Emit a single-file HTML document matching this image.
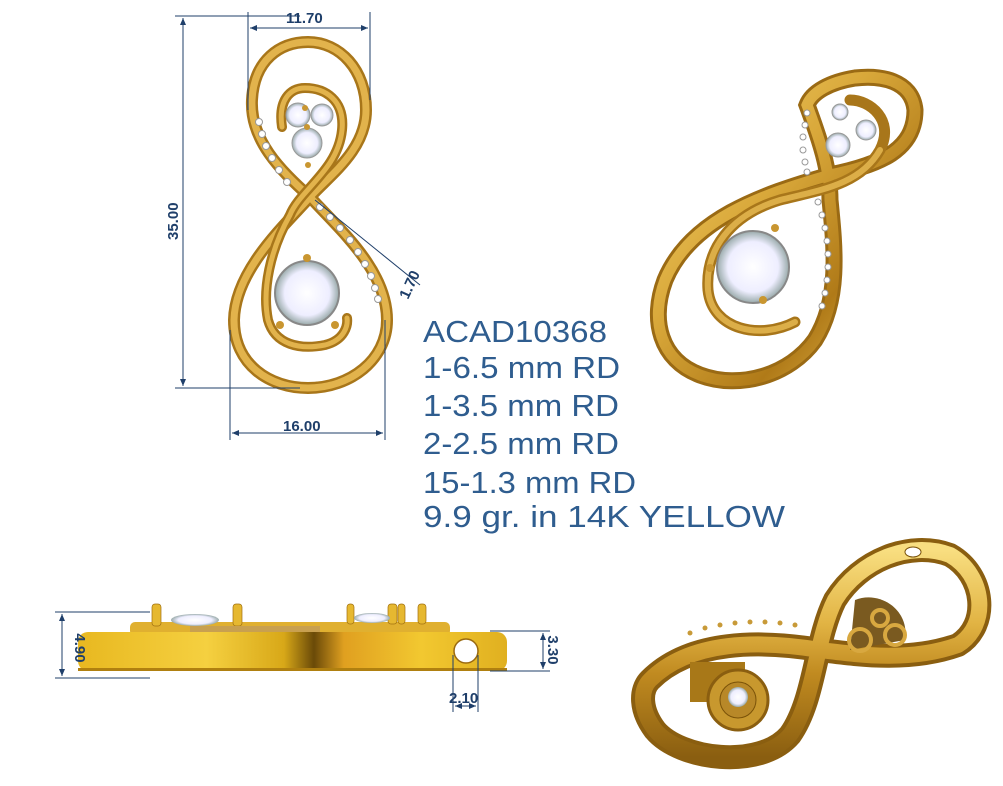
<!DOCTYPE html>
<html><head><meta charset="utf-8"><style>
html,body{margin:0;padding:0;background:#fff;}
svg{display:block}
text{font-family:"Liberation Sans",sans-serif;}
</style></head><body>
<svg width="1003" height="786" viewBox="0 0 1003 786" xmlns="http://www.w3.org/2000/svg">
<defs>
<linearGradient id="g" x1="0" y1="0" x2="1" y2="1">
<stop offset="0" stop-color="#f6d56e"/><stop offset="0.4" stop-color="#d9a83a"/><stop offset="0.7" stop-color="#b07a18"/><stop offset="1" stop-color="#f0c85a"/>
</linearGradient>
<linearGradient id="gv" x1="0" y1="0" x2="0" y2="1">
<stop offset="0" stop-color="#f8de80"/><stop offset="0.35" stop-color="#e2b444"/><stop offset="0.6" stop-color="#c08a20"/><stop offset="1" stop-color="#8a5e10"/>
</linearGradient>
<linearGradient id="sb" x1="0" y1="0" x2="1" y2="0">
<stop offset="0" stop-color="#e8b820"/><stop offset="0.3" stop-color="#f5d040"/><stop offset="0.48" stop-color="#d8a818"/><stop offset="0.55" stop-color="#6a4a08"/><stop offset="0.62" stop-color="#e0a020"/><stop offset="0.8" stop-color="#f2c830"/><stop offset="1" stop-color="#e0b020"/>
</linearGradient>
<radialGradient id="d"><stop offset="0" stop-color="#fff"/><stop offset="0.7" stop-color="#eef"/><stop offset="1" stop-color="#9aa"/></radialGradient>
<marker id="a" markerWidth="8" markerHeight="8" refX="7" refY="4" orient="auto-start-reverse"><path d="M0,1 L7,4 L0,7z" fill="#1f3f6a"/></marker>
</defs>

<!-- Front view -->
<g fill="none" stroke-linecap="round">
<path d="M310,197 C280,170 250,140 252,100 C254,60 280,42 308,42 C340,42 366,70 366,110 C366,150 330,175 310,197 C285,225 235,270 234,320 C234,365 270,388 308,388 C350,388 387,360 387,320 C387,270 340,230 310,197 Z" stroke="#a8761a" stroke-width="12"/>
<path d="M310,197 C280,170 250,140 252,100 C254,60 280,42 308,42 C340,42 366,70 366,110 C366,150 330,175 310,197 C285,225 235,270 234,320 C234,365 270,388 308,388 C350,388 387,360 387,320 C387,270 340,230 310,197 Z" stroke="#e2b34c" stroke-width="7"/>
<path d="M282,127 C278,100 290,88 305,88 C325,88 345,100 342,130 C338,170 300,190 290,215 C270,250 262,290 268,320 C275,345 300,350 325,345 C345,340 348,325 347,318" stroke="#a8761a" stroke-width="10"/>
<path d="M282,127 C278,100 290,88 305,88 C325,88 345,100 342,130 C338,170 300,190 290,215 C270,250 262,290 268,320 C275,345 300,350 325,345 C345,340 348,325 347,318" stroke="#e2b34c" stroke-width="5"/>
</g>
<circle cx="298" cy="115" r="12" fill="url(#d)" stroke="#999"/>
<circle cx="322" cy="115" r="11" fill="url(#d)" stroke="#999"/>
<circle cx="307" cy="143" r="15" fill="url(#d)" stroke="#999"/>
<circle cx="307" cy="293" r="32" fill="url(#d)" stroke="#888" stroke-width="2"/>
<g fill="#c99630"><circle cx="305" cy="108" r="3"/><circle cx="307" cy="127" r="3"/><circle cx="308" cy="165" r="3"/><circle cx="307" cy="258" r="4"/><circle cx="280" cy="325" r="4"/><circle cx="335" cy="325" r="4"/></g>
<g fill="#fff" stroke="#999">
<circle cx="259" cy="122" r="3.5"/><circle cx="262" cy="134" r="3.5"/><circle cx="266" cy="146" r="3.5"/><circle cx="272" cy="158" r="3.5"/><circle cx="279" cy="170" r="3.5"/><circle cx="287" cy="182" r="3.5"/>
<circle cx="320" cy="207" r="3.5"/><circle cx="330" cy="217" r="3.5"/><circle cx="340" cy="228" r="3.5"/><circle cx="350" cy="240" r="3.5"/><circle cx="358" cy="252" r="3.5"/><circle cx="365" cy="264" r="3.5"/><circle cx="371" cy="276" r="3.5"/><circle cx="375" cy="288" r="3.5"/><circle cx="378" cy="299" r="3.5"/>
</g>
<!-- dims front -->
<g stroke="#1f3f6a" stroke-width="1" fill="none">
<line x1="248" y1="12" x2="248" y2="110"/><line x1="370" y1="12" x2="370" y2="100"/>
<line x1="250" y1="28" x2="368" y2="28" marker-start="url(#a)" marker-end="url(#a)"/>
<line x1="175" y1="16" x2="300" y2="16"/><line x1="175" y1="388" x2="300" y2="388"/>
<line x1="183" y1="18" x2="183" y2="386" marker-start="url(#a)" marker-end="url(#a)"/>
<line x1="230" y1="330" x2="230" y2="440"/><line x1="385" y1="320" x2="385" y2="440"/>
<line x1="232" y1="433" x2="383" y2="433" marker-start="url(#a)" marker-end="url(#a)"/>
<line x1="315" y1="200" x2="420" y2="285"/>
</g>
<g fill="#1f3f6a" font-weight="bold" font-size="15">
<text x="286" y="23">11.70</text>
<text x="283" y="431">16.00</text>
<text transform="translate(178,240) rotate(-90)">35.00</text>
<text transform="translate(408,300) rotate(-65)">1.70</text>
</g>

<!-- Right view -->
<g fill="none" stroke-linecap="round">
<path d="M807,105 C820,140 830,170 830,200 C835,250 840,300 815,340 C790,375 740,390 700,375 C660,360 650,320 665,280 C690,220 760,195 830,175 C880,165 915,150 915,110 C912,80 880,75 855,78 C830,82 812,92 807,105Z" stroke="#9a6a14" stroke-width="17"/>
<path d="M807,105 C820,140 830,170 830,200 C835,250 840,300 815,340 C790,375 740,390 700,375 C660,360 650,320 665,280 C690,220 760,195 830,175 C880,165 915,150 915,110 C912,80 880,75 855,78 C830,82 812,92 807,105Z" stroke="url(#g)" stroke-width="11"/>
<path d="M880,150 C895,120 870,100 850,100 M880,150 C860,185 820,190 780,200 C730,215 705,250 708,290 C712,330 760,340 795,322" stroke="#a8761a" stroke-width="11"/>
<path d="M880,150 C860,185 820,190 780,200 C730,215 705,250 708,290 C712,330 760,340 795,322" stroke="#dcae48" stroke-width="6"/>
</g>
<circle cx="753" cy="267" r="36" fill="url(#d)" stroke="#888" stroke-width="2"/>
<g fill="#c99630"><circle cx="775" cy="228" r="4"/><circle cx="710" cy="268" r="4"/><circle cx="763" cy="300" r="4"/></g>
<circle cx="840" cy="112" r="8" fill="url(#d)" stroke="#999"/><circle cx="866" cy="130" r="10" fill="url(#d)" stroke="#999"/><circle cx="838" cy="145" r="12" fill="url(#d)" stroke="#999"/>
<g fill="#fff" stroke="#999">
<circle cx="807" cy="113" r="3"/><circle cx="805" cy="125" r="3"/><circle cx="803" cy="137" r="3"/><circle cx="803" cy="150" r="3"/><circle cx="805" cy="162" r="3"/><circle cx="807" cy="172" r="3"/>
<circle cx="818" cy="202" r="3"/><circle cx="822" cy="215" r="3"/><circle cx="825" cy="228" r="3"/><circle cx="827" cy="241" r="3"/><circle cx="828" cy="254" r="3"/><circle cx="828" cy="267" r="3"/><circle cx="827" cy="280" r="3"/><circle cx="825" cy="293" r="3"/><circle cx="822" cy="306" r="3"/>
</g>

<!-- Text block -->
<g fill="#2f5d8f" font-size="31" style="white-space:pre">
<text x="423" y="342" textLength="184" lengthAdjust="spacingAndGlyphs">ACAD10368</text>
<text x="423" y="378" textLength="197" lengthAdjust="spacingAndGlyphs">1-6.5 mm RD</text>
<text x="423" y="416" textLength="196" lengthAdjust="spacingAndGlyphs">1-3.5 mm RD</text>
<text x="423" y="454" textLength="196" lengthAdjust="spacingAndGlyphs">2-2.5 mm RD</text>
<text x="423" y="493" textLength="213" lengthAdjust="spacingAndGlyphs">15-1.3 mm RD</text>
<text x="423" y="527" textLength="362" lengthAdjust="spacingAndGlyphs">9.9 gr.  in 14K YELLOW</text>
</g>

<!-- Side view -->
<rect x="130" y="622" width="320" height="14" rx="5" fill="#e0b030"/>
<rect x="78" y="632" width="429" height="39" rx="10" fill="url(#sb)"/>
<rect x="78" y="668" width="429" height="3" fill="#b08010"/>
<g fill="#e6b830" stroke="#a07010" stroke-width="0.7">
<rect x="152" y="604" width="9" height="22" rx="3"/><rect x="233" y="604" width="9" height="22" rx="3"/>
<rect x="347" y="604" width="7" height="20" rx="3"/><rect x="388" y="604" width="9" height="20" rx="3"/><rect x="398" y="604" width="7" height="20" rx="3"/><rect x="418" y="604" width="8" height="20" rx="3"/>
</g>
<ellipse cx="195" cy="620" rx="24" ry="6" fill="url(#d)"/><ellipse cx="372" cy="618" rx="18" ry="5" fill="url(#d)"/>
<rect x="190" y="626" width="130" height="6" fill="#c8a050"/>
<circle cx="466" cy="651" r="12" fill="#fff" stroke="#9a6a10" stroke-width="1.5"/>
<g stroke="#1f3f6a" stroke-width="1" fill="none">
<line x1="55" y1="612" x2="150" y2="612"/><line x1="55" y1="678" x2="150" y2="678"/>
<line x1="62" y1="614" x2="62" y2="676" marker-start="url(#a)" marker-end="url(#a)"/>
<line x1="490" y1="631" x2="550" y2="631"/><line x1="490" y1="671" x2="550" y2="671"/>
<line x1="543" y1="633" x2="543" y2="669" marker-start="url(#a)" marker-end="url(#a)"/>
<line x1="453" y1="655" x2="453" y2="712"/><line x1="478" y1="655" x2="478" y2="712"/>
<line x1="455" y1="706" x2="476" y2="706" marker-start="url(#a)" marker-end="url(#a)"/>
</g>
<g fill="#1f3f6a" font-weight="bold" font-size="15">
<text transform="translate(75,648) rotate(90)" text-anchor="middle">4.90</text>
<text transform="translate(548,650) rotate(90)" text-anchor="middle">3.30</text>
<text x="449" y="703">2.10</text>
</g>

<!-- Bottom-right view -->
<g fill="none" stroke-linejoin="round">
<path d="M650,680 C690,640 760,640 820,650 C860,655 910,662 958,645 C990,625 985,575 950,555 C910,540 860,560 835,600 C815,640 815,700 790,735 C760,770 680,760 655,730 C640,710 640,690 650,680Z" stroke="#8a5e10" stroke-width="24"/>
<path d="M650,680 C690,640 760,640 820,650 C860,655 910,662 958,645 C990,625 985,575 950,555 C910,540 860,560 835,600 C815,640 815,700 790,735 C760,770 680,760 655,730 C640,710 640,690 650,680Z" stroke="url(#gv)" stroke-width="16"/>
</g>
<rect x="690" y="662" width="55" height="40" fill="#a87818"/>
<circle cx="738" cy="700" r="30" fill="#c8982e" stroke="#8a5e10" stroke-width="3"/>
<circle cx="738" cy="700" r="18" fill="#b88828" stroke="#7a5208"/>
<circle cx="738" cy="697" r="10" fill="url(#d)"/>
<path d="M855,600 C880,590 910,610 905,640 L850,650 Z" fill="#7a5a20"/>
<circle cx="860" cy="640" r="11" fill="none" stroke="#d8a840" stroke-width="4"/>
<circle cx="895" cy="635" r="10" fill="none" stroke="#d8a840" stroke-width="4"/>
<circle cx="880" cy="618" r="8" fill="none" stroke="#d8a840" stroke-width="4"/>
<g fill="#c89a38"><circle cx="690" cy="633" r="2.5"/><circle cx="705" cy="628" r="2.5"/><circle cx="720" cy="625" r="2.5"/><circle cx="735" cy="623" r="2.5"/><circle cx="750" cy="622" r="2.5"/><circle cx="765" cy="622" r="2.5"/><circle cx="780" cy="623" r="2.5"/><circle cx="795" cy="625" r="2.5"/></g>
<ellipse cx="913" cy="552" rx="8" ry="5" fill="#fff" stroke="#7a5208"/>
</svg>
</body></html>
